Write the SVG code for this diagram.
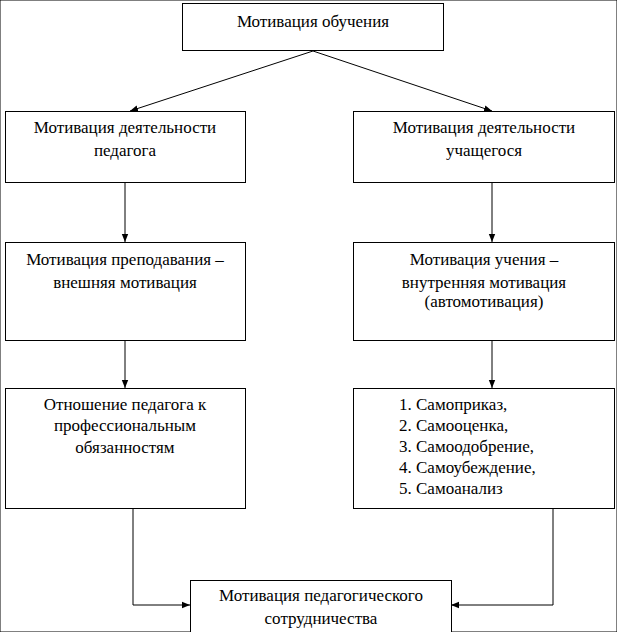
<svg xmlns="http://www.w3.org/2000/svg" width="617" height="632" viewBox="0 0 617 632">
<style>
rect{fill:#fff;stroke:#000;stroke-width:1}
text{font-family:'Liberation Serif','Times New Roman','DejaVu Serif',serif;font-size:17px;text-anchor:middle;fill:#000}
.l{text-anchor:start}
#c line,#c polyline{stroke:#000;stroke-width:1;fill:none;marker-end:url(#a)}
</style>
<defs><marker id="a" viewBox="0 0 10 10" refX="10" refY="5" markerWidth="8" markerHeight="8" markerUnits="userSpaceOnUse" orient="auto"><path d="M0,1L10,5L0,9z" fill="#000"/></marker></defs>
<rect width="617" height="632" fill="#fff" stroke="none"/>
<g id="c">
<line x1="313" y1="51" x2="130" y2="111"/>
<line x1="313" y1="51" x2="492" y2="111"/>
<line x1="125" y1="182" x2="125" y2="242"/>
<line x1="492" y1="182" x2="492" y2="242"/>
<line x1="125" y1="340" x2="125" y2="388"/>
<line x1="492" y1="340" x2="492" y2="388"/>
<polyline points="133,508 133,605 190,605"/>
<polyline points="553,508 553,605 451,605"/>
</g>
<g id="n0"><rect x="182.5" y="3.5" width="261" height="47"/><text x="313" y="27">Мотивация обучения</text></g>
<g id="n1"><rect x="5.5" y="111.5" width="240" height="71"/><text x="125" y="133">Мотивация деятельности</text><text x="125" y="156">педагога</text></g>
<g id="n2"><rect x="353.5" y="111.5" width="261" height="71"/><text x="484" y="133">Мотивация деятельности</text><text x="484" y="156">учащегося</text></g>
<g id="n3"><rect x="5.5" y="242.5" width="240" height="98"/><text x="125" y="265">Мотивация преподавания –</text><text x="125" y="288">внешняя мотивация</text></g>
<g id="n4"><rect x="353.5" y="242.5" width="261" height="98"/><text x="484" y="265">Мотивация учения –</text><text x="484" y="288">внутренняя мотивация</text><text x="484" y="307">(автомотивация)</text></g>
<g id="n5"><rect x="5.5" y="388.5" width="240" height="120"/><text x="125" y="410">Отношение педагога к</text><text x="125" y="431">профессиональным</text><text x="125" y="453">обязанностям</text></g>
<g id="n6"><rect x="353.5" y="388.5" width="261" height="120"/>
<text class="l" x="399" y="410">1.  Самоприказ,</text><text class="l" x="399" y="431">2.  Самооценка,</text><text class="l" x="399" y="452">3.  Самоодобрение,</text><text class="l" x="399" y="473">4.  Самоубеждение,</text><text class="l" x="399" y="494">5.  Самоанализ</text></g>
<g id="n7"><rect x="190.5" y="580.5" width="261" height="60"/><text x="321" y="601">Мотивация педагогического</text><text x="321" y="624">сотрудничества</text></g>
</svg>
